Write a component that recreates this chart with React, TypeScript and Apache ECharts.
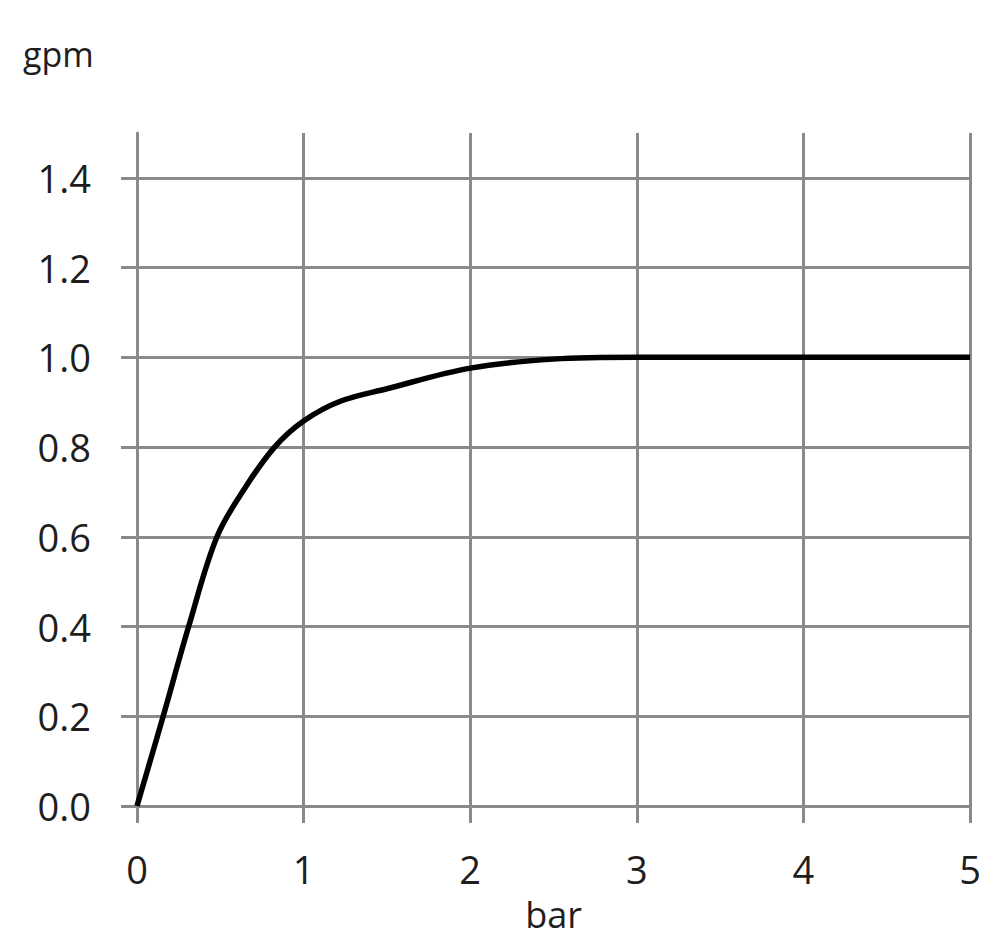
import React, { useEffect, useRef } from 'react';
import * as echarts from 'echarts';

// pressure (bar) vs flow (gpm)
const pressure = [0, 0.157, 0.31, 0.48, 0.65, 0.826, 1, 1.22, 1.5, 2, 2.5, 3, 4, 5];
const flow = [0, 0.2, 0.4, 0.6, 0.71, 0.8, 0.858, 0.902, 0.93, 0.976, 0.996, 1, 1, 1];

const gridColor = '#8a8a8a';
const textColor = '#1e1e1e';
const font = '"Open Sans", "Noto Sans", sans-serif';

const App = () => {
  const chartRef = useRef(null);

  useEffect(() => {
    document.body.style.margin = '0';
    if (!chartRef.current) return;
    const chart = echarts.init(chartRef.current, null, { renderer: 'svg' });

    const option = {
      animation: false,
      backgroundColor: '#fff',
      title: {
        text: 'gpm',
        left: 18,
        top: 32,
        textStyle: { color: textColor, fontSize: 34, fontWeight: 'normal', fontFamily: font },
      },
      grid: { left: 137, right: 29, top: 133, bottom: 137, containLabel: false },
      xAxis: {
        type: 'value',
        min: 0,
        max: 5,
        interval: 1,
        name: 'bar',
        nameLocation: 'middle',
        nameGap: 90,
        nameTextStyle: { color: textColor, fontSize: 36, fontFamily: font },
        axisLine: { show: true, lineStyle: { color: gridColor, width: 3 } },
        axisTick: { show: true, length: 17, lineStyle: { color: gridColor, width: 3 } },
        axisLabel: { color: textColor, fontSize: 38, fontFamily: font, margin: 44 },
        splitLine: { show: true, lineStyle: { color: gridColor, width: 3 } },
      },
      yAxis: {
        type: 'value',
        min: 0,
        max: 1.5,
        interval: 0.2,
        axisLine: { show: true, lineStyle: { color: gridColor, width: 3 } },
        axisTick: { show: true, length: 16, lineStyle: { color: gridColor, width: 3 } },
        axisLabel: {
          color: textColor,
          fontSize: 38,
          fontFamily: font,
          margin: 46,
          showMaxLabel: false,
          formatter: (v: number) => (v > 1.45 ? '' : v.toFixed(1)),
        },
        splitLine: { show: true, showMaxLine: false, lineStyle: { color: gridColor, width: 3 } },
      },
      series: [
        {
          type: 'line',
          data: pressure.map((p, i) => [p, flow[i]]),
          smooth: 0.35,
          showSymbol: false,
          lineStyle: { color: '#000', width: 5.5 },
        },
      ],
    };

    chart.setOption(option);
    return () => {
      chart.dispose();
    };
  }, []);

  return <div ref={chartRef} style={{ width: '999px', height: '943px' }} />;
};

export default App;
